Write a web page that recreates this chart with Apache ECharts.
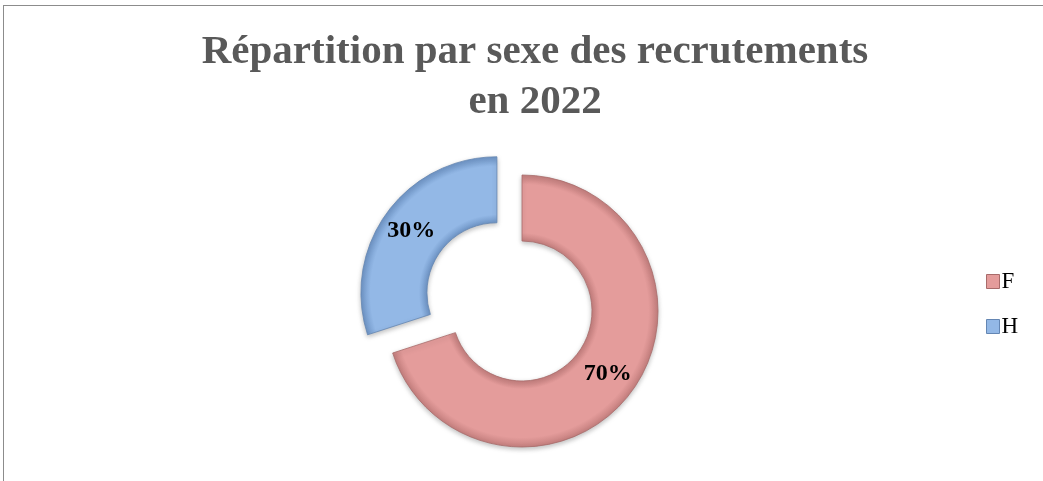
<!DOCTYPE html>
<html><head><meta charset="utf-8">
<script src="https://cdn.jsdelivr.net/npm/echarts@6/dist/echarts.min.js"></script>
<style>
html,body{margin:0;padding:0;background:#fff;}
#frame{position:absolute;left:3px;top:5px;width:1060px;height:500px;border-left:1.5px solid #8c8c8c;border-top:1.5px solid #8c8c8c;}
#c{position:absolute;left:0;top:0;width:1043px;height:481px;}
</style></head><body>
<div id="frame"></div>
<div id="c"></div>
<script>
const categories = ['F', 'H'];
const values = [70, 30];
const colors = ['#E49C9B', '#93B8E6'];
const edges = ['#c47f7e', '#6f95c6'];
const borders = ['#a86b6a', '#6486b3'];

const cx = 522, cy = 311, rIn = 70, rOut = 136, explode = 31;
const chart = echarts.init(document.getElementById('c'));

const f = rIn / rOut;
const data = categories.map((c, i) => ({
  name: c, value: values[i], selected: c === 'H',
  itemStyle: {
    color: {type: 'radial', x: cx, y: cy, r: rOut, global: true, colorStops: [
      {offset: 0, color: edges[i]},
      {offset: f, color: edges[i]},
      {offset: f + 0.06, color: colors[i]},
      {offset: 0.93, color: colors[i]},
      {offset: 1, color: edges[i]}]},
    borderColor: borders[i], borderWidth: 0.8,
    shadowBlur: 5, shadowColor: 'rgba(0,0,0,0.25)', shadowOffsetY: 2
  }
}));
chart.setOption({
  animation: false,
  title: {
    text: 'Répartition par sexe des recrutements\nen 2022',
    left: 530, top: 22, textAlign: 'center',
    textStyle: {fontFamily: 'Liberation Serif', fontWeight: 'bold', fontSize: 41, color: '#595959', lineHeight: 50}
  },
  legend: {
    orient: 'vertical', left: 986, top: 270, padding: 0, itemGap: 22, itemWidth: 13, itemHeight: 14,
    icon: 'rect',
    data: categories.map((c, i) => ({name: c, itemStyle: {color: colors[i], borderColor: borders[i], borderWidth: 1}})),
    textStyle: {fontFamily: 'Liberation Serif', fontSize: 23, color: '#000', padding: [0, 0, 0, -3]},
    selectedMode: false
  },
  series: [{
    type: 'pie',
    center: [cx, cy], radius: [rIn, rOut],
    startAngle: 90, clockwise: true,
    selectedMode: 'multiple', selectedOffset: explode,
    label: {position: 'inside', formatter: '{d}%', fontFamily: 'Liberation Serif', fontWeight: 'bold', fontSize: 24, color: '#000'},
    labelLine: {show: false},
    emphasis: {disabled: true},
    data: data
  }]
});
</script></body></html>
